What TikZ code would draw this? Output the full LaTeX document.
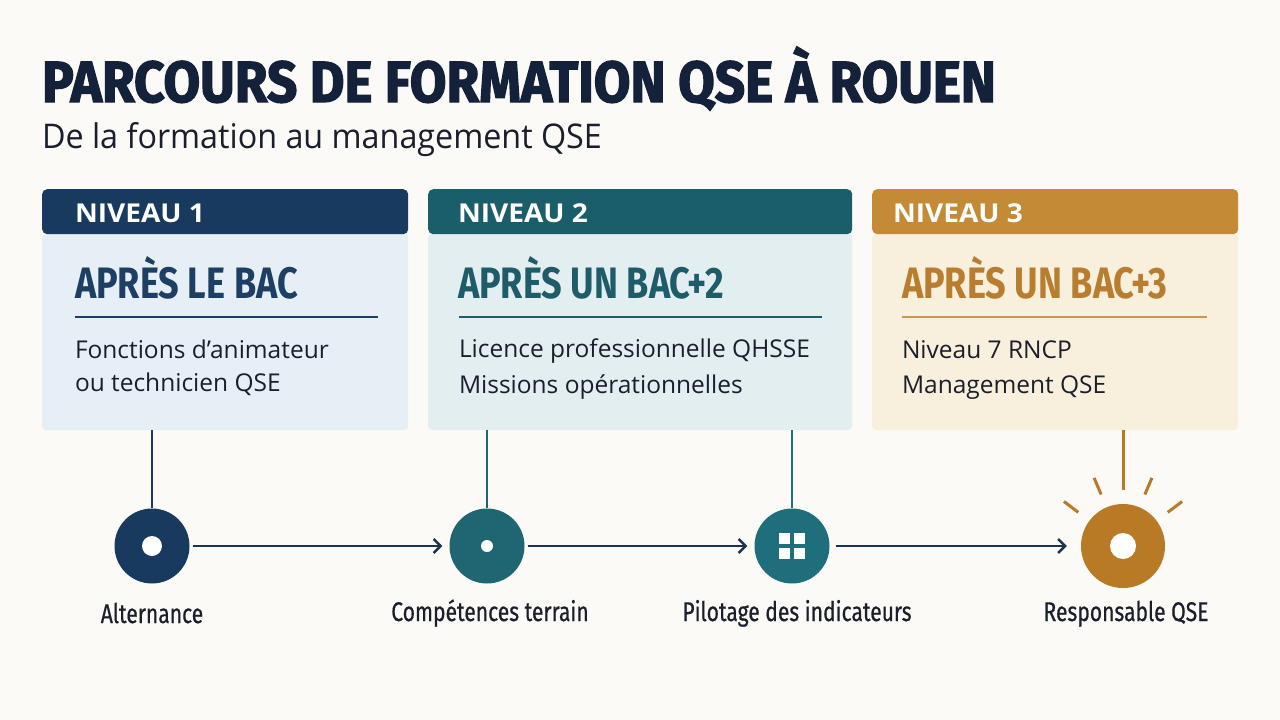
\documentclass[tikz,border=0pt]{standalone}
\usepackage{fontspec}
\usetikzlibrary{arrows.meta}
\setmainfont{Open Sans}
\newfontfamily\titlef[FakeStretch=0.915,FakeBold=2.2]{Fira Sans}
\newfontfamily\headf[FakeStretch=0.82]{Fira Sans}
\newfontfamily\subf[FakeStretch=0.95]{Open Sans}
\newfontfamily\bodyf{Open Sans}
\newfontfamily\levf[FakeStretch=1.08]{Open Sans}
\newfontfamily\labf[FakeStretch=0.78,FakeBold=0.6]{Fira Sans}
\definecolor{bg}{HTML}{FBFAF6}
\definecolor{ink}{HTML}{14213A}
\definecolor{navy}{HTML}{173A5E}
\definecolor{navyh}{HTML}{1C3F63}
\definecolor{navyb}{HTML}{E7EFF6}
\definecolor{teal}{HTML}{1B5E6B}
\definecolor{tealh}{HTML}{1E5C6A}
\definecolor{tealb}{HTML}{E3EEF1}
\definecolor{tealc}{HTML}{1F6572}
\definecolor{tealc2}{HTML}{1E6E7C}
\definecolor{gold}{HTML}{C48A35}
\definecolor{goldh}{HTML}{B87D2E}
\definecolor{goldb}{HTML}{F9EFDD}
\definecolor{sun}{HTML}{B97A25}
\definecolor{arrowc}{HTML}{1C3350}
\definecolor{txt}{HTML}{1A1F2B}
\tikzset{
  txtnode/.style={anchor=base west,inner sep=0pt,outer sep=0pt},
  bodybox/.style={anchor=north west,inner sep=0pt,minimum height=196pt,rounded corners=4pt},
  headbox/.style={anchor=north west,inner sep=0pt,minimum height=45pt,rounded corners=5pt},
  levtext/.style={txtnode,font=\levf\bfseries\fontsize{26}{26}\selectfont,text=white},
  headtext/.style={txtnode,font=\headf\bfseries\fontsize{44}{44}\selectfont},
  bodytext/.style={txtnode,font=\bodyf\fontsize{24.5}{24.5}\selectfont,text=txt},
  dot/.style={circle,inner sep=0pt,minimum size=75pt},
  lab/.style={anchor=base,inner sep=0pt,font=\labf\fontsize{27}{27}\selectfont,text=txt},
  flow/.style={draw=arrowc,line width=2.4pt,-{Straight Barb[length=7pt,width=14pt,line width=2.4pt]}},
  vline/.style={line width=1.8pt},
  ray/.style={draw=sun,line width=3pt}
}
\begin{document}
\begin{tikzpicture}[x=1pt,y=-1pt]
\useasboundingbox[fill=bg] (0,0) rectangle (1280,720);
% title
\node[txtnode,font=\titlef\bfseries\fontsize{58}{58}\selectfont,text=ink] (title) at (42,102) {PARCOURS DE FORMATION QSE À ROUEN};
\node[txtnode,font=\subf\fontsize{34}{34}\selectfont,text=txt] (sub) at (42,148) {De la formation au management QSE};
% boxes
\node[bodybox,fill=navyb,minimum width=366pt] (b1) at (42,234) {};
\node[headbox,fill=navy,minimum width=366pt] (h1) at (42,189) {};
\node[bodybox,fill=tealb,minimum width=424pt] (b2) at (428,234) {};
\node[headbox,fill=teal,minimum width=424pt] (h2) at (428,189) {};
\node[bodybox,fill=goldb,minimum width=366pt] (b3) at (872,234) {};
\node[headbox,fill=gold,minimum width=366pt] (h3) at (872,189) {};
% box 1
\node[levtext] (l1) at (75,222) {NIVEAU 1};
\node[headtext,text=navyh] (t1) at (75,298) {APRÈS LE BAC};
\draw[navyh,line width=1.5pt] (75,317) -- (378,317);
\node[bodytext] (d1a) at (75,358) {Fonctions d’animateur};
\node[bodytext] (d1b) at (75,391) {ou technicien QSE};
% box 2
\node[levtext] (l2) at (458,222) {NIVEAU 2};
\node[headtext,text=tealh] (t2) at (458,298) {APRÈS UN BAC+2};
\draw[tealh,line width=1.5pt] (459,317) -- (822,317);
\node[bodytext] (d2a) at (459,357) {Licence professionnelle QHSSE};
\node[bodytext] (d2b) at (459,393) {Missions opérationnelles};
% box 3
\node[levtext] (l3) at (893,222) {NIVEAU 3};
\node[headtext,text=goldh] (t3) at (902,298) {APRÈS UN BAC+3};
\draw[goldh!80,line width=1.5pt] (902,317) -- (1207,317);
\node[bodytext] (d3a) at (902,358) {Niveau 7 RNCP};
\node[bodytext] (d3b) at (902,393) {Management QSE};
% circles
\node[dot,fill=navy] (c1) at (152,546) {};
\fill[white] (c1.center) circle (10pt);
\node[dot,fill=tealc] (c2) at (487,546) {};
\fill[white] (c2.center) circle (6pt);
\node[dot,fill=tealc2] (c3) at (792,546) {};
\foreach \dx/\dy in {-13/-13,2/-13,-13/2,2/2}
  \fill[white] ([shift={(\dx,\dy)}]c3.center) rectangle ++(11,11);
\node[dot,fill=sun,minimum size=84pt] (c4) at (1123,546) {};
\fill[white] (c4.center) circle (13pt);
% rays
\foreach \a in {37,67,113,143}
  \draw[ray] ([shift={({56*cos(\a)},{-56*sin(\a)})}]c4.center) -- ([shift={({74*cos(\a)},{-74*sin(\a)})}]c4.center);
% vertical connectors
\coordinate (v4) at ([yshift=56pt]c4.center);
\draw[vline,navy] (c1.north) -- (c1.north |- b1.south);
\draw[vline,tealc] (c2.north) -- (c2.north |- b2.south);
\draw[vline,tealc2] (c3.north) -- (c3.north |- b2.south);
\draw[ray] (v4) -- (v4 |- b3.south);
% flow arrows
\draw[flow,shorten <=3pt,shorten >=7pt] (c1) -- (c2);
\draw[flow,shorten <=3pt,shorten >=7pt] (c2) -- (c3);
\draw[flow,shorten <=6pt,shorten >=14pt] (c3) -- (c4);
% labels
\node[lab] (a1) at (152,623) {Alternance};
\node[lab] (a2) at (490,621) {Compétences terrain};
\node[lab] (a3) at (797,621) {Pilotage des indicateurs};
\node[lab] (a4) at (1126,621) {Responsable QSE};
\end{tikzpicture}
\end{document}
